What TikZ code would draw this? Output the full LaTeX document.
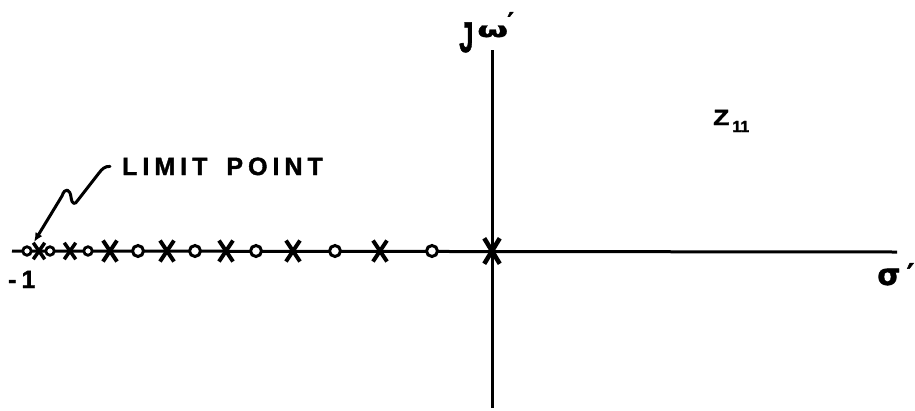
\documentclass[tikz,border=0pt]{standalone}
\usepackage{fontspec}
\setmainfont{Liberation Sans}
\newfontfamily\hand{Liberation Sans}[BoldFeatures={FakeBold=1.5}]
\newfontfamily\greekf{DejaVu Sans}[BoldFeatures={FakeBold=1}]
\usetikzlibrary{arrows.meta,shapes.misc}
\begin{document}
\begin{tikzpicture}[x=1pt,y=-1pt,
  axis/.style={line width=3pt},
  zero/.style={circle,draw,fill=white,line width=3pt,minimum size=11pt,inner sep=0pt},
  zerosm/.style={zero,minimum size=8.5pt,line width=2.8pt},
  pole/.style={cross out,draw,line width=4pt,minimum width=10pt,minimum height=17pt,inner sep=0pt},
  polesm/.style={pole,minimum width=8pt,minimum height=13pt,line width=3.5pt},
  lab/.style={inner sep=0pt,anchor=base west},
  leader/.style={line width=3pt,-{Latex[length=9pt,width=8pt]},line cap=round,line join=round,shorten >=6pt}
]
\useasboundingbox (0,0) rectangle (915,410);
% axes
\coordinate (hl) at (12,251);
\coordinate (hr) at (897,252);
\coordinate (vt) at (492,50);
\coordinate (vb) at (492,408);
\draw[axis] (hl) -- (hr);
\draw[axis] (vt) -- (vb);
% zeros and poles
\node[zerosm] (z1) at (27,251) {};
\node[polesm] (p1) at (39,251) {};
\node[zerosm] (z2) at (50,251) {};
\node[polesm] (p2) at (70,251) {};
\node[zerosm] (z3) at (88,251) {};
\node[pole]   (p3) at (110,251) {};
\node[zero]   (z4) at (138,251) {};
\node[pole]   (p4) at (167,251) {};
\node[zero]   (z5) at (195,251) {};
\node[pole]   (p5) at (226,251) {};
\node[zero]   (z6) at (256,251) {};
\node[pole]   (p6) at (293,251) {};
\node[zero]   (z7) at (335,251) {};
\node[pole]   (p7) at (380,251) {};
\node[zero]   (z8) at (432,251) {};
\node[pole,minimum width=11pt,minimum height=21pt,line width=4.5pt] (p8) at (492,251) {};
% labels
\node[lab,font=\hand\bfseries\fontsize{25}{25}\selectfont\addfontfeature{LetterSpace=20}] (lp) at (122,175) {LIMIT\hspace{7pt} POINT};
\node[lab,font=\hand\bfseries\fontsize{25}{25}\selectfont\addfontfeature{LetterSpace=20}] (ml) at (8,288) {-1};
\node[lab,font=\hand\bfseries\fontsize{43}{43}\selectfont] (jl) at (459,52) {\scalebox{0.6}[1]{J}};
\node[lab,font=\greekf\bfseries\fontsize{21}{21}\selectfont] (wl) at (477,37) {\scalebox{1.7}[1]{ω}\hspace{-1pt}\raisebox{6pt}{\fontsize{26}{26}\selectfont ′}};
\node[lab,font=\hand\bfseries\fontsize{22}{22}\selectfont] (zl) at (713,125) {\scalebox{1.2}[1]{Z}\hspace{3pt}\raisebox{-7pt}{\fontsize{16}{16}\selectfont 11}};
\node[lab,font=\greekf\bfseries\fontsize{30}{30}\selectfont] (sl) at (877,285) {σ\hspace{6pt}′};
% leader arrow
\draw[leader] ([xshift=-12pt]lp.west) .. controls (105,166) and (102,169) .. (99,173)
  -- (78,200) .. controls (75,205) and (72,205) .. (71,197)
  .. controls (70,189) and (65,187) .. (62,196) -- (z1.north east);
\end{tikzpicture}
\end{document}
